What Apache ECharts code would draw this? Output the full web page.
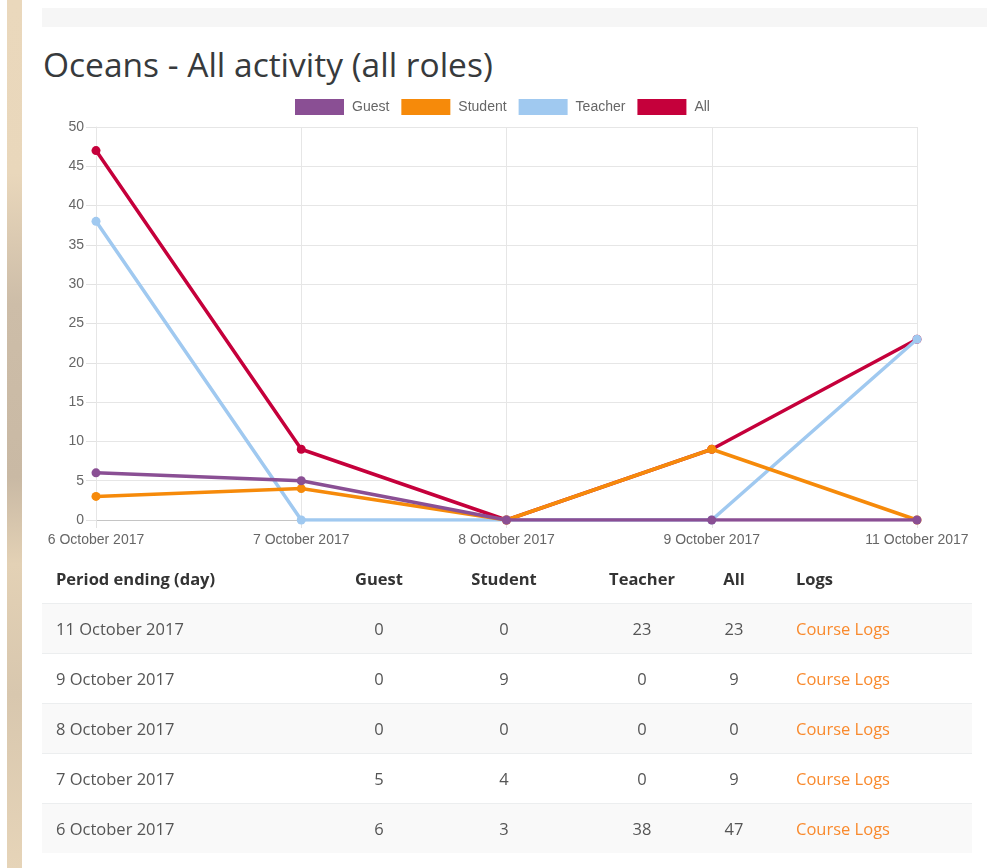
<!DOCTYPE html>
<html>
<head>
<meta charset="utf-8">
<script src="https://cdn.jsdelivr.net/npm/echarts@6/dist/echarts.min.js"></script>
<style>
html,body{margin:0;padding:0;background:#fff;width:994px;height:868px;overflow:hidden;font-family:"Open Sans",sans-serif;}
#strip{position:absolute;left:7px;top:0;width:15px;height:868px;
  background:linear-gradient(180deg,#ead8bc 0%,#e9d7bb 20%,#cdbda8 35%,#c9b9a4 55%,#e3d1b5 65%,#d8c7ae 80%,#e6d4b8 100%);}
#topbar{position:absolute;left:42px;top:8px;width:945px;height:19px;background:#f6f6f6;}
#title{position:absolute;left:43px;top:44px;font-size:33.5px;line-height:1.2;color:#373a3c;font-weight:400;white-space:nowrap;}
#chart{position:absolute;left:0;top:0;width:994px;height:560px;}
#tbl{position:absolute;left:42px;top:553px;border-collapse:collapse;table-layout:fixed;width:930px;font-size:16.5px;color:#555;}
#tbl th{font-weight:700;color:#333;height:50px;padding:0;}
#tbl td{height:49px;padding:0;border-top:1px solid #eceeef;}
#tbl tbody tr:nth-child(odd) td{background:#f9f9f9;}
#tbl .c0{text-align:left;padding-left:14px;}
#tbl .cc{text-align:center;}
#tbl .cl{text-align:left;padding-left:32px;}
#tbl a{color:#f98a2d;text-decoration:none;}
</style>
</head>
<body>
<div id="strip"></div>
<div id="topbar"></div>
<div id="title">Oceans - All activity (all roles)</div>
<div id="chart"></div>
<table id="tbl">
  <colgroup>
    <col style="width:288px"><col style="width:98px"><col style="width:152px"><col style="width:124px"><col style="width:60px"><col style="width:208px">
  </colgroup>
  <thead><tr id="hdr"></tr></thead>
  <tbody id="body"></tbody>
</table>
<script>
// ---- data ----
const categories = ['6 October 2017', '7 October 2017', '8 October 2017', '9 October 2017', '11 October 2017'];
const guest   = [6, 5, 0, 0, 0];
const student = [3, 4, 0, 9, 0];
const teacher = [38, 0, 0, 0, 23];
const all     = [47, 9, 0, 9, 23];
const seriesNames = ['Guest', 'Student', 'Teacher', 'All'];
const yTicks = [0, 5, 10, 15, 20, 25, 30, 35, 40, 45, 50];
const tableHeaders = ['Period ending (day)', 'Guest', 'Student', 'Teacher', 'All', 'Logs'];
const logLabel = 'Course Logs';

// ---- chart ----
const chart = echarts.init(document.getElementById('chart'), null, {renderer: 'canvas'});
const labelFont = '"Liberation Sans", Arial, sans-serif';
function mk(name, data, color, z) {
  return {
    name: name, type: 'line', data: data, z: z, color: color,
    symbol: 'circle', symbolSize: 9, showSymbol: true,
    lineStyle: {width: 3.5, color: color},
    itemStyle: {color: color},
    emphasis: {disabled: true},
    animation: false
  };
}
chart.setOption({
  animation: false,
  legend: {
    data: seriesNames,
    left: 295, top: 99, padding: 0,
    icon: 'rect', itemWidth: 49, itemHeight: 16, itemGap: 12,
    textStyle: {fontSize: 14, color: '#666', fontFamily: labelFont, padding: [0, 0, 0, 3]},
    selectedMode: false
  },
  grid: {left: 96, right: 77, top: 127, bottom: 40, containLabel: false, outerBoundsMode: 'none'},
  xAxis: {
    type: 'category', data: categories, boundaryGap: false,
    axisLine: {show: true, lineStyle: {color: '#c4c4c4', width: 1}},
    axisTick: {show: true, length: 8, lineStyle: {color: '#e2e2e2'}},
    axisLabel: {color: '#666', fontSize: 14, fontFamily: labelFont, margin: 13, interval: 0},
    splitLine: {show: true, showMinLine: true, showMaxLine: true, lineStyle: {color: '#e6e6e6'}}
  },
  yAxis: {
    type: 'value', min: yTicks[0], max: yTicks[yTicks.length - 1], interval: yTicks[1] - yTicks[0],
    axisLine: {show: true, lineStyle: {color: '#e6e6e6'}},
    axisTick: {show: true, length: 10, lineStyle: {color: '#e2e2e2'}},
    axisLabel: {color: '#666', fontSize: 14, fontFamily: labelFont, margin: 12},
    splitLine: {show: true, lineStyle: {color: '#e6e6e6'}}
  },
  series: [
    mk(seriesNames[0], guest, '#8a4f94', 8),
    mk(seriesNames[1], student, '#f68a0a', 7),
    mk(seriesNames[2], teacher, '#a0c9f0', 6),
    mk(seriesNames[3], all, '#c5003b', 5)
  ]
});

// ---- table ----
const hdr = document.getElementById('hdr');
tableHeaders.forEach(function (h, i) {
  const th = document.createElement('th');
  th.textContent = h;
  th.className = i === 0 ? 'c0' : (i === 5 ? 'cl' : 'cc');
  hdr.appendChild(th);
});
const tbody = document.getElementById('body');
for (let k = categories.length - 1; k >= 0; k--) {
  const tr = document.createElement('tr');
  const vals = [categories[k], guest[k], student[k], teacher[k], all[k]];
  vals.forEach(function (v, i) {
    const td = document.createElement('td');
    td.textContent = String(v);
    td.className = i === 0 ? 'c0' : 'cc';
    tr.appendChild(td);
  });
  const td = document.createElement('td');
  td.className = 'cl';
  const a = document.createElement('a');
  a.href = '#'; a.textContent = logLabel;
  td.appendChild(a);
  tr.appendChild(td);
  tbody.appendChild(tr);
}
</script>
</body>
</html>
